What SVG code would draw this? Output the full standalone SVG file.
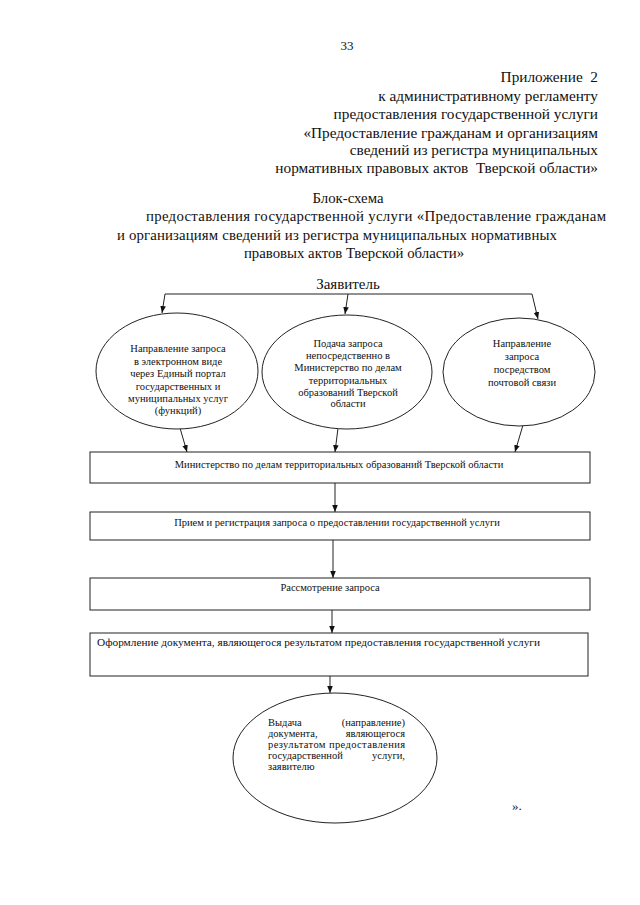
<svg xmlns="http://www.w3.org/2000/svg" width="640" height="905" viewBox="0 0 640 905">
<style>
text{font-family:"Liberation Serif","DejaVu Serif",serif;fill:#111}
.h{font-size:15.3px}
.t{font-size:14.8px}
.s{font-size:10.5px}
.m{font-size:10.5px}
.c{text-anchor:middle}
.r{text-anchor:end}
.shape{fill:#fff;stroke:#222;stroke-width:1}
.ln{fill:none;stroke:#222;stroke-width:1}
</style>
<defs>
<marker id="ah" viewBox="0 0 10 10" refX="10" refY="5" markerWidth="7" markerHeight="7" orient="auto" markerUnits="userSpaceOnUse">
<path d="M0,1 L10,5 L0,9 Z" fill="#111"/>
</marker>
</defs>
<rect width="640" height="905" fill="#fff"/>
<text x="347" y="50" class="c" style="font-size:13px">33</text>
<g id="header">
<text x="598" y="82" class="h r" xml:space="preserve">Приложение  2</text>
<text x="598" y="101" class="h r">к административному регламенту</text>
<text x="598" y="119" class="h r">предоставления государственной услуги</text>
<text x="598" y="138" class="h r">«Предоставление гражданам и организациям</text>
<text x="598" y="155" class="h r">сведений из регистра муниципальных</text>
<text x="598" y="173" class="h r" xml:space="preserve">нормативных правовых актов  Тверской области»</text>
</g>
<g id="title">
<text x="348" y="203" class="t c">Блок-схема</text>
<text x="146" y="221" class="t" textLength="460" lengthAdjust="spacing">предоставления государственной услуги «Предоставление гражданам</text>
<text x="117" y="240" class="t" textLength="440" lengthAdjust="spacing">и организациям сведений из регистра муниципальных нормативных</text>
<text x="354" y="258" class="t c">правовых актов Тверской области»</text>
</g>
<g id="applicant"><text x="348" y="289" class="c" style="font-size:15px">Заявитель</text></g>
<g id="connectors">
<path class="ln" d="M165,294 H532"/>
<path class="ln" d="M165,294 L162,313" marker-end="url(#ah)"/>
<path class="ln" d="M348,294 L345,314" marker-end="url(#ah)"/>
<path class="ln" d="M532,294 L538,319" marker-end="url(#ah)"/>
<path class="ln" d="M180,428 L187,452" marker-end="url(#ah)"/>
<path class="ln" d="M338,428 L335,452" marker-end="url(#ah)"/>
<path class="ln" d="M523,425 L515,452" marker-end="url(#ah)"/>
<path class="ln" d="M335,483 V512" marker-end="url(#ah)"/>
<path class="ln" d="M333,540 V578" marker-end="url(#ah)"/>
<path class="ln" d="M332,610 V633" marker-end="url(#ah)"/>
<path class="ln" d="M330,676 V693" marker-end="url(#ah)"/>
</g>
<g id="e1">
<ellipse class="shape" cx="177" cy="371" rx="81" ry="58"/>
<text x="178" y="352" class="s c">Направление запроса</text>
<text x="178" y="365" class="s c">в электронном виде</text>
<text x="178" y="377" class="s c">через Единый портал</text>
<text x="178" y="390" class="s c">государственных и</text>
<text x="178" y="402" class="s c">муниципальных услуг</text>
<text x="178" y="414" class="s c">(функций)</text>
</g>
<g id="e2">
<ellipse class="shape" cx="347" cy="372" rx="85" ry="57"/>
<text x="348" y="347" class="s c">Подача запроса</text>
<text x="348" y="359" class="s c">непосредственно в</text>
<text x="348" y="371" class="s c">Министерство по делам</text>
<text x="348" y="384" class="s c">территориальных</text>
<text x="348" y="396" class="s c">образований Тверской</text>
<text x="348" y="407" class="s c">области</text>
</g>
<g id="e3">
<ellipse class="shape" cx="519" cy="372" rx="76" ry="54"/>
<text x="522" y="347" class="s c">Направление</text>
<text x="522" y="360" class="s c">запроса</text>
<text x="522" y="373" class="s c">посредством</text>
<text x="522" y="386" class="s c">почтовой связи</text>
</g>
<g id="b1">
<rect class="shape" x="90" y="452" width="500" height="31"/>
<text x="339" y="468" class="s c">Министерство по делам территориальных образований Тверской области</text>
</g>
<g id="b2">
<rect class="shape" x="90" y="512" width="500" height="28"/>
<text x="337" y="526" class="s c">Прием и регистрация запроса о предоставлении государственной услуги</text>
</g>
<g id="b3">
<rect class="shape" x="90" y="578" width="500" height="32"/>
<text x="330" y="591" class="s c">Рассмотрение запроса</text>
</g>
<g id="b4">
<rect class="shape" x="90" y="633" width="498" height="43"/>
<text x="97" y="646" style="font-size:11.3px">Оформление документа, являющегося результатом предоставления государственной услуги</text>
</g>
<g id="e4">
<ellipse class="shape" cx="335" cy="758" rx="102" ry="65"/>
<text x="268" y="726" class="m">Выдача</text>
<text x="405" y="726" class="m r">(направление)</text>
<text x="268" y="737" class="m">документа,</text>
<text x="405" y="737" class="m r">являющегося</text>
<text x="268" y="748" class="m" textLength="137" lengthAdjust="spacing">результатом предоставления</text>
<text x="268" y="759" class="m">государственной</text>
<text x="405" y="759" class="m r">услуги,</text>
<text x="268" y="770" class="m">заявителю</text>
</g>
<text x="512" y="810" style="font-size:13px">».</text>
</svg>
